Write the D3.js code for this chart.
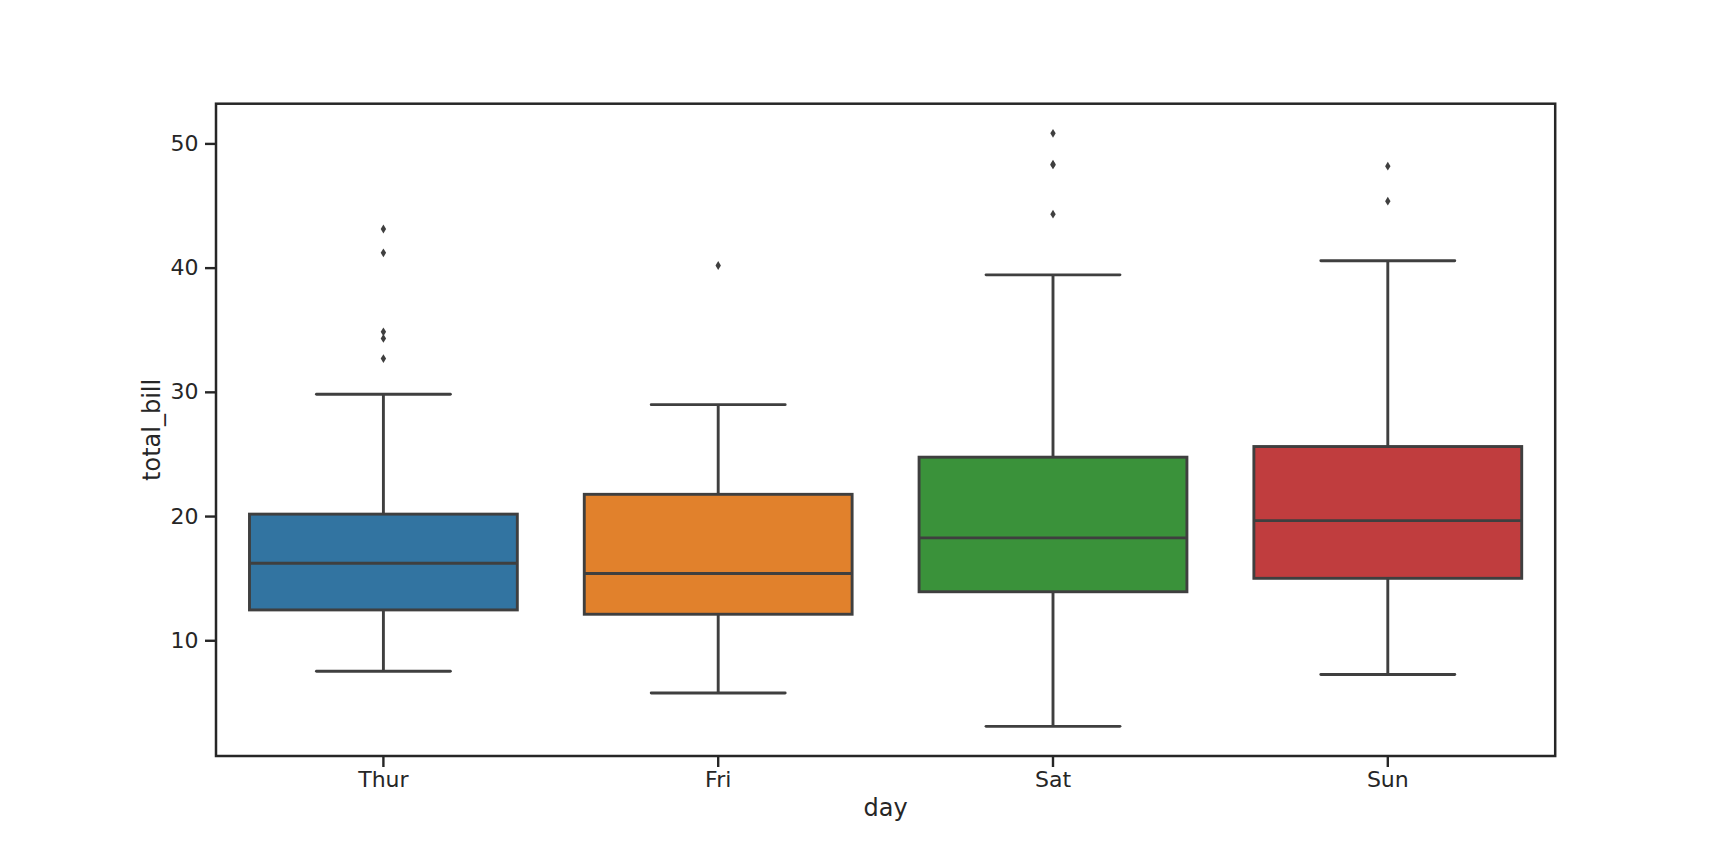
<!DOCTYPE html>
<html>
<head>
<meta charset="utf-8">
<script src="https://cdn.jsdelivr.net/npm/d3@7"></script>
<style>
  html, body { margin: 0; padding: 0; background: #ffffff; }
  svg { display: block; }
  text { font-family: "DejaVu Sans", sans-serif; fill: #262626; }
</style>
</head>
<body>
<svg id="chart" width="1728" height="864"></svg>
<script>
// ---- data (tips dataset: total_bill by day) ----
const days = ["Thur", "Fri", "Sat", "Sun"];
const colors = ["#3274a1", "#e1812c", "#3a923a", "#c03d3e"];
const q1 = [12.4425, 12.095, 13.905, 14.9875];
const medians = [16.2, 15.38, 18.24, 19.63];
const q3 = [20.155, 21.75, 24.74, 25.5975];
const whiskerLow = [7.51, 5.75, 3.07, 7.25];
const whiskerHigh = [29.8, 28.97, 39.42, 40.55];
const outliers = [
  [32.68, 34.83, 34.3, 41.19, 43.11],
  [40.17],
  [44.3, 48.27, 48.33, 50.81],
  [45.35, 48.17]
];
const yTicks = [10, 20, 30, 40, 50];
const xLabel = "day";
const yLabel = "total_bill";

// ---- layout ----
const plotLeft = 216, plotRight = 1555.2, plotTop = 103.7, plotBottom = 756;
const lineColor = "#3f3f3f";
const axisColor = "#262626";
const boxLW = 2.9;

const svg = d3.select("#chart");

const x = d3.scaleBand().domain(days).range([plotLeft, plotRight]).padding(0);
const allVals = whiskerLow.concat(outliers.flat(), whiskerHigh);
const ymin = d3.min(allVals), ymax = d3.max(allVals);
const pad = (ymax - ymin) * 0.05;
const y = d3.scaleLinear().domain([ymin - pad, ymax + pad]).range([plotBottom, plotTop]);

const boxW = x.bandwidth() * 0.8;
const capW = boxW * 0.5;

const rows = days.map((d, i) => ({
  day: d, color: colors[i], q1: q1[i], med: medians[i], q3: q3[i],
  lo: whiskerLow[i], hi: whiskerHigh[i], out: outliers[i]
}));

const g = svg.append("g");
const groups = g.selectAll("g.box").data(rows).enter().append("g").attr("class", "box");
const cx = d => x(d.day) + x.bandwidth() / 2;

// whiskers
groups.append("line")
  .attr("x1", cx).attr("x2", cx)
  .attr("y1", d => y(d.q3)).attr("y2", d => y(d.hi))
  .attr("stroke", lineColor).attr("stroke-width", boxLW);
groups.append("line")
  .attr("x1", cx).attr("x2", cx)
  .attr("y1", d => y(d.q1)).attr("y2", d => y(d.lo))
  .attr("stroke", lineColor).attr("stroke-width", boxLW);
// caps
groups.append("line")
  .attr("x1", d => cx(d) - capW / 2).attr("x2", d => cx(d) + capW / 2)
  .attr("y1", d => y(d.hi)).attr("y2", d => y(d.hi))
  .attr("stroke", lineColor).attr("stroke-width", boxLW).attr("stroke-linecap", "round");
groups.append("line")
  .attr("x1", d => cx(d) - capW / 2).attr("x2", d => cx(d) + capW / 2)
  .attr("y1", d => y(d.lo)).attr("y2", d => y(d.lo))
  .attr("stroke", lineColor).attr("stroke-width", boxLW).attr("stroke-linecap", "round");
// boxes
groups.append("rect")
  .attr("x", d => cx(d) - boxW / 2)
  .attr("width", boxW)
  .attr("y", d => y(d.q3))
  .attr("height", d => y(d.q1) - y(d.q3))
  .attr("fill", d => d.color)
  .attr("stroke", lineColor).attr("stroke-width", boxLW);
// medians
groups.append("line")
  .attr("x1", d => cx(d) - boxW / 2).attr("x2", d => cx(d) + boxW / 2)
  .attr("y1", d => y(d.med)).attr("y2", d => y(d.med))
  .attr("stroke", lineColor).attr("stroke-width", boxLW);
// outliers (thin diamonds)
const dh = 4.4, dw = 2.7;
groups.each(function(d) {
  d3.select(this).selectAll("path.flier").data(d.out).enter().append("path")
    .attr("class", "flier")
    .attr("d", v => {
      const px = cx(d), py = y(v);
      return `M${px},${py - dh}L${px + dw},${py}L${px},${py + dh}L${px - dw},${py}Z`;
    })
    .attr("fill", lineColor);
});

// axes
const tickLen = 11;
const xAxis = d3.axisBottom(x).tickSize(tickLen).tickSizeOuter(0).tickPadding(4);
const yAxis = d3.axisLeft(y).tickValues(yTicks).tickSize(tickLen).tickSizeOuter(0).tickPadding(6.5)
  .tickFormat(d3.format("d"));

const gx = svg.append("g").attr("transform", `translate(0,${plotBottom})`).call(xAxis);
const gy = svg.append("g").attr("transform", `translate(${plotLeft},0)`).call(yAxis);
[gx, gy].forEach(a => {
  a.select(".domain").remove();
  a.selectAll(".tick line").attr("stroke", axisColor).attr("stroke-width", 2.4);
  a.selectAll(".tick text").attr("fill", axisColor)
    .style("font-family", "'DejaVu Sans', sans-serif").style("font-size", "22px");
});

// frame
svg.append("rect")
  .attr("x", plotLeft).attr("y", plotTop)
  .attr("width", plotRight - plotLeft).attr("height", plotBottom - plotTop)
  .attr("fill", "none").attr("stroke", axisColor).attr("stroke-width", 2.5);

// axis labels
svg.append("text")
  .attr("x", (plotLeft + plotRight) / 2).attr("y", 816)
  .attr("text-anchor", "middle")
  .style("font-size", "24px")
  .text(xLabel);
svg.append("text")
  .attr("transform", `translate(160,${(plotTop + plotBottom) / 2}) rotate(-90)`)
  .attr("text-anchor", "middle")
  .style("font-size", "24px")
  .text(yLabel);
</script>
</body>
</html>
